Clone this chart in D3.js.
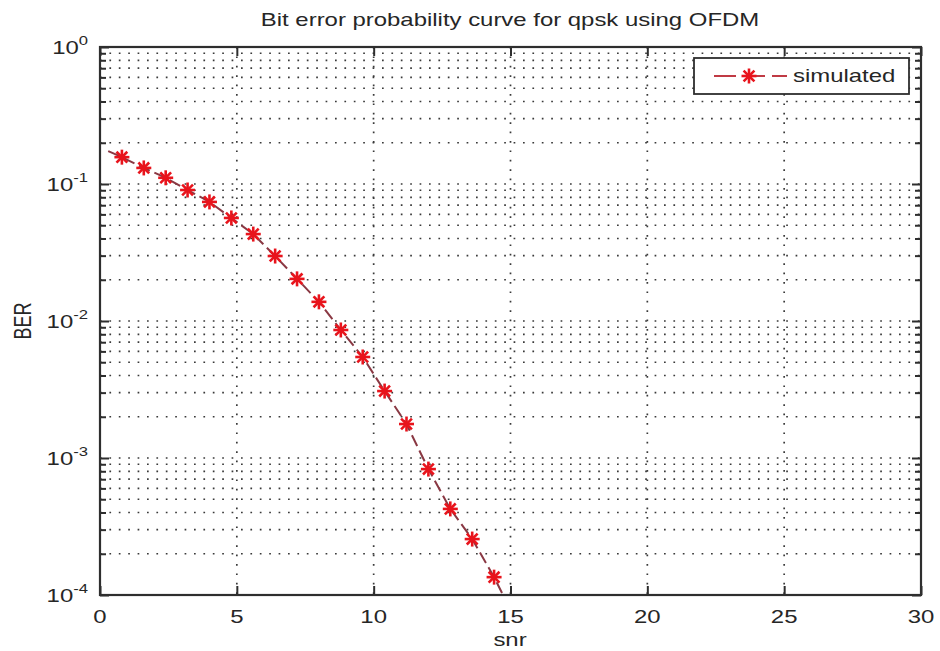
<!DOCTYPE html>
<html>
<head>
<meta charset="utf-8">
<script src="https://cdn.jsdelivr.net/npm/d3@7"></script>
<style>
  body { margin: 0; background: #fff; }
  text { font-family: "Liberation Sans", Arial, sans-serif; fill: #262626; }
</style>
</head>
<body>
<svg id="chart" width="940" height="651"></svg>
<script>
// Simulated bit error rate of QPSK over OFDM
const snr = [0.8, 1.6, 2.4, 3.2, 4.0, 4.8, 5.6, 6.4, 7.2, 8.0, 8.8, 9.6, 10.4, 11.2, 12.0, 12.8, 13.6, 14.4];
const ber = [0.157, 0.131, 0.111, 0.0904, 0.074, 0.0565, 0.0431, 0.0298, 0.0203, 0.0138,
             0.0086, 0.00546, 0.00308, 0.00177, 0.00083, 0.000425, 0.000256, 0.000135];
// dashed curve runs a little past the first and last markers
const curveSnr = [0.3].concat(snr, [15.2]);
const curveBer = [0.174].concat(ber, [0.000065]);

const xTicks = [0, 5, 10, 15, 20, 25, 30];
const yExponents = [-4, -3, -2, -1, 0];
const titleText = "Bit error probability curve for qpsk using OFDM";
const xLabel = "snr";
const yLabel = "BER";
const legendLabel = "simulated";

const SX = 1.33; // horizontal text stretch
const plot = { left: 100, right: 921, top: 47, bottom: 595 };

const svg = d3.select("#chart");
const x = d3.scaleLinear().domain([0, 30]).range([plot.left, plot.right]);
const y = d3.scaleLog().domain([1e-4, 1]).range([plot.bottom, plot.top]);

const axisColor = "#2e2e2e";
const gridColor = "#3a3a3a";

// minor log positions
const yGrid = [];
for (let e = -4; e < 0; e++) for (let m = 1; m <= 9; m++) yGrid.push(m * Math.pow(10, e));
yGrid.push(1);

// grid
const grid = svg.append("g");
grid.selectAll("line.hg").data(yGrid).join("line")
  .attr("x1", plot.left).attr("x2", plot.right)
  .attr("y1", d => y(d)).attr("y2", d => y(d))
  .attr("stroke", gridColor).attr("stroke-width", 1.7)
  .attr("stroke-dasharray", "1.7,7.7");
grid.selectAll("line.vg").data(xTicks.slice(1, -1)).join("line")
  .attr("x1", d => x(d)).attr("x2", d => x(d))
  .attr("y1", plot.top).attr("y2", plot.bottom)
  .attr("stroke", gridColor).attr("stroke-width", 1.7)
  .attr("stroke-dasharray", "1.7,7.7");

// axes (ticks pointing inward)
const minorTick = 6, majorTick = 9;
svg.append("g").attr("transform", `translate(0,${plot.bottom})`)
  .call(d3.axisTop(x).tickValues(xTicks).tickSize(majorTick).tickFormat(""))
  .call(g => g.select(".domain").remove());
svg.append("g").attr("transform", `translate(0,${plot.top})`)
  .call(d3.axisBottom(x).tickValues(xTicks).tickSize(majorTick).tickFormat(""))
  .call(g => g.select(".domain").remove());
svg.append("g").attr("transform", `translate(${plot.left},0)`)
  .call(d3.axisRight(y).tickValues(yGrid).tickSize(minorTick).tickFormat(""))
  .call(g => g.select(".domain").remove())
  .call(g => g.selectAll(".tick line").attr("x2", d => Number.isInteger(Math.log10(d)) ? majorTick : minorTick));
svg.append("g").attr("transform", `translate(${plot.right},0)`)
  .call(d3.axisLeft(y).tickValues(yGrid).tickSize(minorTick).tickFormat(""))
  .call(g => g.select(".domain").remove())
  .call(g => g.selectAll(".tick line").attr("x2", d => Number.isInteger(Math.log10(d)) ? -majorTick : -minorTick));
svg.selectAll(".tick line").attr("stroke", axisColor).attr("stroke-width", 2);

svg.append("rect")
  .attr("x", plot.left).attr("y", plot.top)
  .attr("width", plot.right - plot.left).attr("height", plot.bottom - plot.top)
  .attr("fill", "none").attr("stroke", axisColor).attr("stroke-width", 2.2);

// stretched text helper
function label(parent, px, py, anchor, size) {
  return parent.append("g").attr("transform", `translate(${px},${py}) scale(${SX},1)`)
    .append("text").attr("text-anchor", anchor).attr("font-size", size);
}

// x tick labels
xTicks.forEach(v => label(svg, x(v), 623, "middle", 18).text(v));

// y tick labels 10^e
yExponents.forEach(e => {
  const t = label(svg, 88, y(Math.pow(10, e)) + 7, "end", 18);
  t.append("tspan").text("10");
  t.append("tspan").attr("font-size", 12.5).attr("dy", -9).text(e);
});

// title and axis labels
label(svg, 510, 26, "middle", 18).text(titleText);
label(svg, 510, 646, "middle", 18).text(xLabel);
svg.append("g").attr("transform", `translate(31,321) rotate(-90) scale(1,${SX})`)
  .append("text").attr("text-anchor", "middle").attr("font-size", 18).text(yLabel);

// curve
svg.append("clipPath").attr("id", "plotClip").append("rect")
  .attr("x", plot.left).attr("y", plot.top)
  .attr("width", plot.right - plot.left).attr("height", plot.bottom - plot.top);

const curveColor = "#8a3843";
const markerColor = "#e8141c";
const lineGen = d3.line().x(d => x(d[0])).y(d => y(d[1]));
svg.append("path")
  .datum(curveSnr.map((s, i) => [s, curveBer[i]]))
  .attr("clip-path", "url(#plotClip)")
  .attr("d", lineGen)
  .attr("fill", "none").attr("stroke", curveColor).attr("stroke-width", 2)
  .attr("stroke-dasharray", "12,5");

// asterisk markers (+ and x)
function star(g, cx, cy, r) {
  const d = r * 0.72;
  const segs = [[-r, 0, r, 0], [0, -r, 0, r], [-d, -d, d, d], [-d, d, d, -d]];
  segs.forEach(s => g.append("line")
    .attr("x1", cx + s[0]).attr("y1", cy + s[1]).attr("x2", cx + s[2]).attr("y2", cy + s[3])
    .attr("stroke", markerColor).attr("stroke-width", 2.6));
}
const markers = svg.append("g");
snr.forEach((s, i) => star(markers, x(s), y(ber[i]), 7.5));

// legend
const lg = svg.append("g");
lg.append("rect").attr("x", 694).attr("y", 58).attr("width", 215).attr("height", 36)
  .attr("fill", "#fff").attr("stroke", axisColor).attr("stroke-width", 1.8);
lg.append("line").attr("x1", 714).attr("x2", 787).attr("y1", 76).attr("y2", 76)
  .attr("stroke", "#c03a44").attr("stroke-width", 2).attr("stroke-dasharray", "22,7");
star(lg, 749, 76, 7.5);
label(lg, 793, 82, "start", 18).text(legendLabel);
</script>
</body>
</html>
